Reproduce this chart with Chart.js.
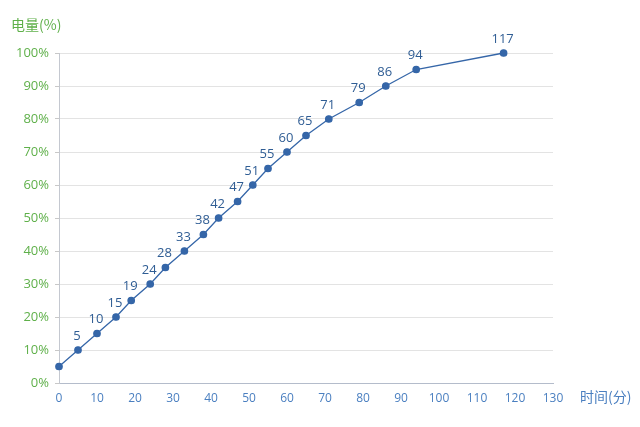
<!DOCTYPE html>
<html>
<head>
<meta charset="utf-8">
<script src="https://cdn.jsdelivr.net/npm/chart.js@4/dist/chart.umd.min.js"></script>
<style>
  html, body { margin: 0; padding: 0; background: #fff; }
  #wrap { width: 640px; height: 427px; position: relative; }
</style>
</head>
<body>
<div id="wrap"><canvas id="chart"></canvas></div>
<script>
// minutes charged -> battery level (%)
const times = [0, 5, 10, 15, 19, 24, 28, 33, 38, 42, 47, 51, 55, 60, 65, 71, 79, 86, 94, 117];
const levels = [5, 10, 15, 20, 25, 30, 35, 40, 45, 50, 55, 60, 65, 70, 75, 80, 85, 90, 95, 100];
const xTicks = [0, 10, 20, 30, 40, 50, 60, 70, 80, 90, 100, 110, 120, 130];

const yTitle = '电量(%)';
const xTitle = '时间(分)';

const green = '#5fb04a';
const blue = '#4a7fc0';
const lineBlue = '#3566a8';
const font = '"Segoe UI", "Open Sans", "Noto Sans CJK SC", sans-serif';

// point labels (minutes) + the two axis captions
const labelsPlugin = {
  id: 'pointLabels',
  afterDatasetsDraw(chart) {
    const ctx = chart.ctx;
    const meta = chart.getDatasetMeta(0);
    ctx.save();
    ctx.font = '13px ' + font;
    ctx.fillStyle = '#2f5d94';
    ctx.textAlign = 'center';
    ctx.textBaseline = 'middle';
    meta.data.forEach((pt, i) => {
      if (i === 0) return;
      ctx.fillText(String(times[i]), pt.x - 1, pt.y - 14);
    });

    ctx.font = '14px "Noto Sans CJK SC", sans-serif';
    ctx.textAlign = 'left';
    ctx.fillStyle = green;
    ctx.fillText(yTitle, 11, 25);
    ctx.fillStyle = blue;
    ctx.fillText(xTitle, 580, 397);
    ctx.restore();
  }
};

new Chart(document.getElementById('chart'), {
  type: 'line',
  data: {
    datasets: [{
      data: times.map((t, i) => ({ x: t, y: levels[i] })),
      borderColor: lineBlue,
      backgroundColor: lineBlue,
      borderWidth: 1.3,
      pointRadius: 3.2,
      pointHoverRadius: 3.2,
      tension: 0,
      clip: false,
    }],
  },
  options: {
    responsive: true,
    maintainAspectRatio: false,
    animation: false,
    layout: { padding: { top: 53, right: 87, left: 0, bottom: 0 } },
    plugins: {
      legend: { display: false },
      tooltip: { enabled: false },
    },
    scales: {
      x: {
        type: 'linear',
        min: 0,
        max: 130,
        afterBuildTicks: (s) => { s.ticks = xTicks.map(v => ({ value: v })); },
        afterFit: (s) => { s.height = 44; },
        grid: { drawOnChartArea: false, drawTicks: false },
        border: { color: '#b4bccb', width: 1 },
        ticks: {
          color: blue,
          padding: 8,
          maxRotation: 0,
          autoSkip: false,
          font: { size: 12, family: font },
        },
      },
      y: {
        min: 0,
        max: 100,
        afterFit: (s) => { s.width = 59; },
        grid: { color: '#e3e3e3', tickLength: 4, tickColor: '#c8c8c8' },
        border: { color: '#c4c8d0', width: 1 },
        ticks: {
          stepSize: 10,
          color: green,
          padding: 6,
          font: { size: 13, family: font },
          callback: (v) => v + '%',
        },
      },
    },
  },
  plugins: [labelsPlugin],
});
</script>
</body>
</html>
